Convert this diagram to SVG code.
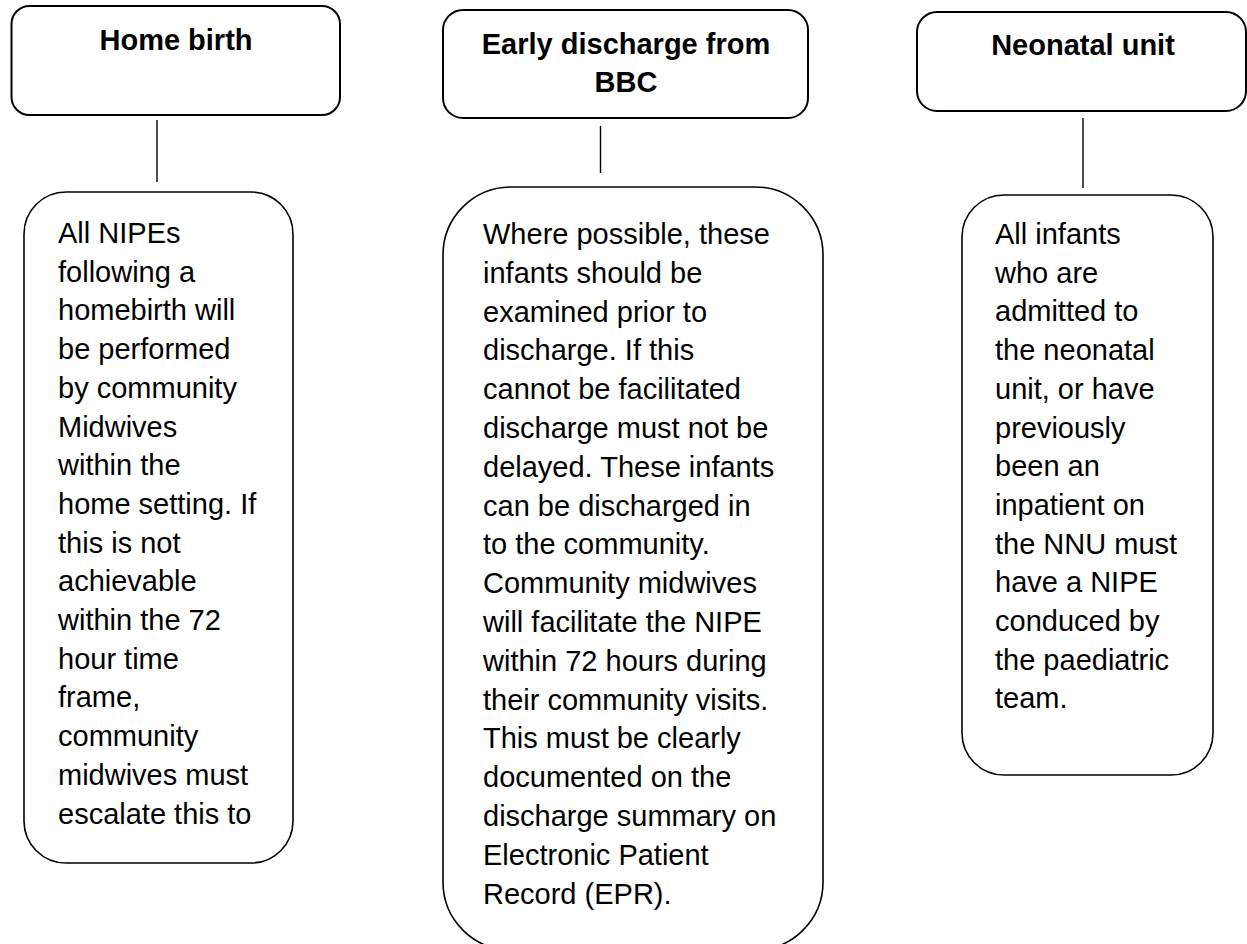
<svg xmlns="http://www.w3.org/2000/svg" width="1247" height="944" viewBox="0 0 1247 944">
<style>
.hdr{fill:#fff;stroke:#000;stroke-width:2}
.box{fill:#fff;stroke:#000;stroke-width:1.6}
.t{font-family:"Liberation Sans",Arial,sans-serif;font-size:29px;fill:#000}
.b{font-weight:bold;text-anchor:middle}
.con line{stroke:#000;stroke-width:1.4}
</style>
<rect width="1247" height="944" fill="#fff"/>
<g class="con" id="connectors">
<line x1="157" y1="120" x2="157" y2="182"/>
<line x1="600.5" y1="126" x2="600.5" y2="173"/>
<line x1="1083" y1="118" x2="1083" y2="188"/>
</g>
<g id="home-birth">
<rect class="hdr" x="11.5" y="6" width="328.5" height="109" rx="18"/>
<text class="t b" x="176" y="50">Home birth</text>
</g>
<g id="early-discharge">
<rect class="hdr" x="443" y="10" width="365" height="108" rx="20"/>
<text class="t b" x="626" y="54">Early discharge from</text>
<text class="t b" x="626" y="92">BBC</text>
</g>
<g id="neonatal-unit">
<rect class="hdr" x="917" y="12" width="329" height="99" rx="20"/>
<text class="t b" x="1083" y="55">Neonatal unit</text>
</g>
<g id="home-birth-detail">
<rect class="box" x="24" y="192" width="269" height="671" rx="42"/>
<text class="t" x="58" y="243">
<tspan x="58" dy="0">All NIPEs</tspan>
<tspan x="58" dy="38.7">following a</tspan>
<tspan x="58" dy="38.7">homebirth will</tspan>
<tspan x="58" dy="38.7">be performed</tspan>
<tspan x="58" dy="38.7">by community</tspan>
<tspan x="58" dy="38.7">Midwives</tspan>
<tspan x="58" dy="38.7">within the</tspan>
<tspan x="58" dy="38.7">home setting. If</tspan>
<tspan x="58" dy="38.7">this is not</tspan>
<tspan x="58" dy="38.7">achievable</tspan>
<tspan x="58" dy="38.7">within the 72</tspan>
<tspan x="58" dy="38.7">hour time</tspan>
<tspan x="58" dy="38.7">frame,</tspan>
<tspan x="58" dy="38.7">community</tspan>
<tspan x="58" dy="38.7">midwives must</tspan>
<tspan x="58" dy="38.7">escalate this to</tspan>
</text>
</g>
<g id="early-discharge-detail">
<rect class="box" x="443" y="187" width="380" height="763" rx="68"/>
<text class="t" x="483" y="244">
<tspan x="483" dy="0">Where possible, these</tspan>
<tspan x="483" dy="38.8">infants should be</tspan>
<tspan x="483" dy="38.8">examined prior to</tspan>
<tspan x="483" dy="38.8">discharge. If this</tspan>
<tspan x="483" dy="38.8">cannot be facilitated</tspan>
<tspan x="483" dy="38.8">discharge must not be</tspan>
<tspan x="483" dy="38.8">delayed. These infants</tspan>
<tspan x="483" dy="38.8">can be discharged in</tspan>
<tspan x="483" dy="38.8">to the community.</tspan>
<tspan x="483" dy="38.8">Community midwives</tspan>
<tspan x="483" dy="38.8">will facilitate the NIPE</tspan>
<tspan x="483" dy="38.8">within 72 hours during</tspan>
<tspan x="483" dy="38.8">their community visits.</tspan>
<tspan x="483" dy="38.8">This must be clearly</tspan>
<tspan x="483" dy="38.8">documented on the</tspan>
<tspan x="483" dy="38.8">discharge summary on</tspan>
<tspan x="483" dy="38.8">Electronic Patient</tspan>
<tspan x="483" dy="38.8">Record (EPR).</tspan>
</text>
</g>
<g id="neonatal-unit-detail">
<rect class="box" x="962" y="195" width="251" height="580" rx="42"/>
<text class="t" x="995" y="244">
<tspan x="995" dy="0">All infants</tspan>
<tspan x="995" dy="38.7">who are</tspan>
<tspan x="995" dy="38.7">admitted to</tspan>
<tspan x="995" dy="38.7">the neonatal</tspan>
<tspan x="995" dy="38.7">unit, or have</tspan>
<tspan x="995" dy="38.7">previously</tspan>
<tspan x="995" dy="38.7">been an</tspan>
<tspan x="995" dy="38.7">inpatient on</tspan>
<tspan x="995" dy="38.7">the NNU must</tspan>
<tspan x="995" dy="38.7">have a NIPE</tspan>
<tspan x="995" dy="38.7">conduced by</tspan>
<tspan x="995" dy="38.7">the paediatric</tspan>
<tspan x="995" dy="38.7">team.</tspan>
</text>
</g>
</svg>
